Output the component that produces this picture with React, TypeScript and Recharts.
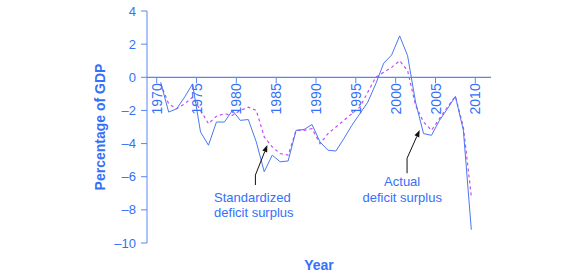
import { LineChart, Line, XAxis, YAxis, ReferenceLine, ReferenceDot, Label } from 'recharts'

// fiscal years, plotted at mid-year
const YEARS = [
  1970, 1971, 1972, 1973, 1974, 1975, 1976, 1977, 1978, 1979,
  1980, 1981, 1982, 1983, 1984, 1985, 1986, 1987, 1988, 1989,
  1990, 1991, 1992, 1993, 1994, 1995, 1996, 1997, 1998, 1999,
  2000, 2001, 2002, 2003, 2004, 2005, 2006, 2007, 2008, 2009,
]

const ACTUAL = [
  -0.3, -2.1, -1.9, -1.2, -0.4, -3.3, -4.1, -2.7, -2.7, -2.0,
  -2.6, -2.55, -3.9, -5.7, -4.7, -5.1, -5.05, -3.2, -3.15, -2.85,
  -3.9, -4.4, -4.45, -3.7, -2.9, -2.2, -1.5, -0.4, 0.85, 1.35,
  2.5, 1.3, -1.5, -3.4, -3.5, -2.6, -1.9, -1.15, -3.2, -9.2,
]

const STANDARDIZED = [
  -0.4, -1.6, -1.9, -1.6, -1.2, -2.0, -2.8, -2.35, -2.2, -2.3,
  -2.0, -1.8, -2.0, -3.6, -4.2, -4.6, -4.7, -3.2, -3.2, -3.1,
  -4.0, -3.4, -3.0, -2.6, -2.2, -1.8, -0.9, 0.0, 0.3, 0.6,
  1.0, 0.4, -1.7, -2.7, -3.2, -2.5, -1.8, -1.15, -3.0, -7.2,
]

const X_TICKS = [1970, 1975, 1980, 1985, 1990, 1995, 2000, 2005, 2010]
const Y_TICKS = [-10, -8, -6, -4, -2, 0, 2, 4]

const ANNOTATIONS = [
  { lines: ['Standardized', 'deficit surplus'], x: 1977.2, y: -7.51, anchor: 'start' },
  { lines: ['Actual', 'deficit surplus'], x: 2000.82, y: -6.57, anchor: 'middle' },
]

// arrow legs in data units, last leg gets the head
const ARROWS = [
  [{ x: 1982.39, y: -6.5 }, { x: 1982.39, y: -5.9 }, { x: 1983.89, y: -4.09 }],
  [{ x: 2001.43, y: -5.79 }, { x: 2001.43, y: -4.89 }, { x: 2003.02, y: -3.18 }],
]

const FONT = '"Liberation Sans", Arial, Helvetica, sans-serif'
const TEXT_BLUE = '#3470fa'
const AXIS_BLUE = '#5a86f2'
const LINE_BLUE = '#4a78f0'
const DASH_PURPLE = '#c24cfa'

const W = 585
const H = 280
const TOP = 11
const BOTTOM = 36
const X_AXIS_H = 1
const Y_MIN = -10
const Y_MAX = 4
const zeroY = TOP + ((H - TOP - BOTTOM - X_AXIS_H) * Y_MAX) / (Y_MAX - Y_MIN)

const data = YEARS.map((year, i) => ({
  x: year + 0.5,
  actual: ACTUAL[i],
  standardized: STANDARDIZED[i],
}))

function renderYearTick(props: any) {
  const { x, payload } = props
  const ly = zeroY + 6
  return (
    <g key={`yt-${payload.value}`}>
      <line x1={x} x2={x} y1={zeroY} y2={zeroY + 6} stroke={AXIS_BLUE} />
      <text
        x={x}
        y={ly}
        transform={`rotate(-90, ${x}, ${ly})`}
        dy="0.36em"
        textAnchor="end"
        fill={TEXT_BLUE}
        fontSize={14}
        fontFamily={FONT}
      >
        {payload.value}
      </text>
    </g>
  )
}

function ArrowLeg(head: boolean) {
  return (p: any) => {
    const { x1, y1, x2, y2 } = p
    const a = Math.atan2(y2 - y1, x2 - x1)
    const len = 7
    const hw = 2.6
    const bx = x2 - len * Math.cos(a)
    const by = y2 - len * Math.sin(a)
    const nx = -Math.sin(a) * hw
    const ny = Math.cos(a) * hw
    return (
      <g>
        <line x1={x1} y1={y1} x2={head ? bx : x2} y2={head ? by : y2} stroke="#111" strokeWidth={1} />
        {head && (
          <polygon points={`${x2},${y2} ${bx + nx},${by + ny} ${bx - nx},${by - ny}`} fill="#111" />
        )}
      </g>
    )
  }
}

function NoteText(lines: string[], anchor: string) {
  return (p: any) => (
    <text x={p.cx} y={p.cy} textAnchor={anchor} fill={TEXT_BLUE} fontSize={13} fontFamily={FONT}>
      {lines.map((t, i) => (
        <tspan key={i} x={p.cx} dy={i === 0 ? 0 : 15.5}>
          {t}
        </tspan>
      ))}
    </text>
  )
}

export default function App() {
  return (
    <div style={{ position: 'absolute', left: 0, top: 0, width: W, height: H, background: '#fff' }}>
      <LineChart width={W} height={H} data={data} margin={{ top: TOP, right: 94, bottom: BOTTOM, left: 0 }}>
        <XAxis
          dataKey="x"
          type="number"
          domain={[1968.78, 2011.97]}
          ticks={X_TICKS}
          height={X_AXIS_H}
          axisLine={false}
          tickLine={false}
          tick={renderYearTick}
          interval={0}
        >
          <Label
            content={(p: any) => (
              <text
                x={p.viewBox.x + p.viewBox.width / 2}
                y={p.viewBox.y + 27}
                textAnchor="middle"
                fill={TEXT_BLUE}
                fontSize={14}
                fontWeight="bold"
                fontFamily={FONT}
              >
                Year
              </text>
            )}
          />
        </XAxis>
        <YAxis
          width={147}
          domain={[Y_MIN, Y_MAX]}
          ticks={Y_TICKS}
          interval={0}
          tickSize={6}
          tickMargin={5}
          axisLine={{ stroke: AXIS_BLUE }}
          tickLine={{ stroke: AXIS_BLUE }}
          tick={{ fill: TEXT_BLUE, fontSize: 13, fontFamily: FONT }}
          tickFormatter={(v: number) => (v < 0 ? `\u2013${Math.abs(v)}` : `${v}`)}
        >
          <Label
            content={(p: any) => {
              const cx = p.viewBox.x + 104.5
              const cy = p.viewBox.y + p.viewBox.height / 2
              return (
                <text
                  x={cx}
                  y={cy}
                  transform={`rotate(-90, ${cx}, ${cy})`}
                  textAnchor="middle"
                  fill={TEXT_BLUE}
                  fontSize={14}
                  fontWeight="bold"
                  fontFamily={FONT}
                >
                  Percentage of GDP
                </text>
              )
            }}
          />
        </YAxis>
        <ReferenceLine y={0} stroke={AXIS_BLUE} strokeWidth={1.2} />
        <Line
          type="linear"
          dataKey="standardized"
          stroke={DASH_PURPLE}
          strokeWidth={1.2}
          strokeDasharray="3 3"
          dot={false}
          isAnimationActive={false}
        />
        <Line
          type="linear"
          dataKey="actual"
          stroke={LINE_BLUE}
          strokeWidth={1}
          dot={false}
          isAnimationActive={false}
        />
        {ARROWS.map((pts, ai) =>
          pts.slice(1).map((pt, i) => (
            <ReferenceLine
              key={`arrow-${ai}-${i}`}
              segment={[pts[i], pt]}
              shape={ArrowLeg(i === pts.length - 2)}
            />
          ))
        )}
        {ANNOTATIONS.map((a, i) => (
          <ReferenceDot key={`note-${i}`} x={a.x} y={a.y} r={1} shape={NoteText(a.lines, a.anchor)} />
        ))}
      </LineChart>
    </div>
  )
}
